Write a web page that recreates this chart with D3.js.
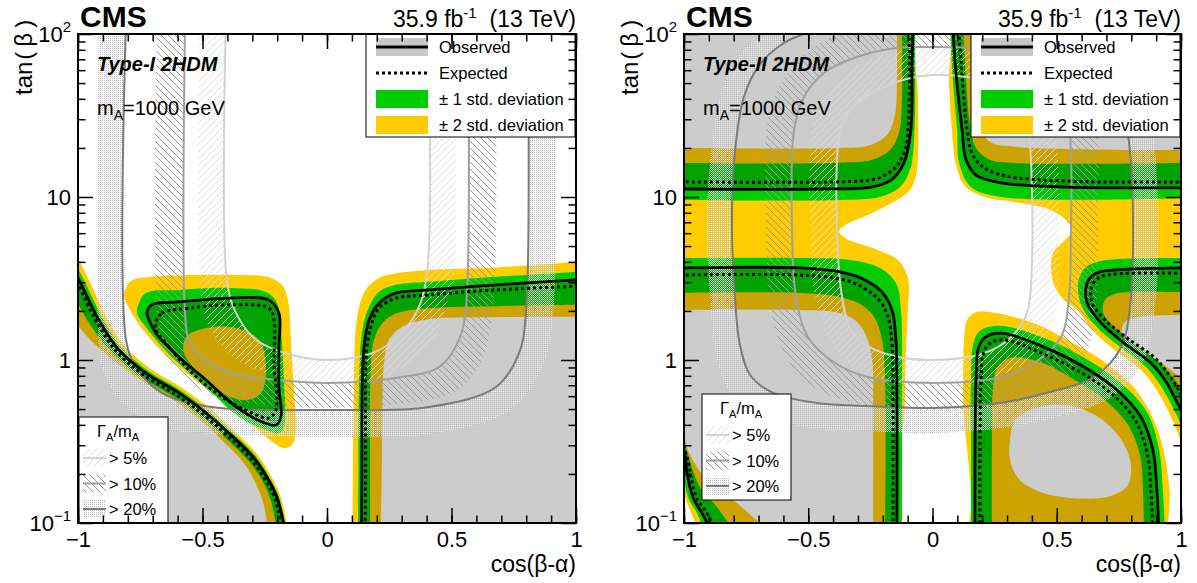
<!DOCTYPE html>
<html><head><meta charset="utf-8">
<script src="https://cdn.jsdelivr.net/npm/d3@7"></script>
<style>
body{margin:0;background:#fff;}
svg text{font-family:"Liberation Sans",Arial,Helvetica,sans-serif;fill:#000;}
</style></head><body>
<svg id="c" width="1197" height="583"></svg>
<script>
// ---------------- axis tick values / labels ----------------
const xTicks = [-1, -0.5, 0, 0.5, 1];
const xTickLabels = ["\u22121", "\u22120.5", "0", "0.5", "1"];
const yTicks = [0.1, 1, 10, 100];
const yTickLabels = [["10", "\u22121"], ["1", ""], ["10", ""], ["10", "2"]];

// ---------------- Type-I contours [cos(b-a), tan(b)] ----------------
const I_LL_y2out = [[-1.044,5.77],[-0.964,3.28],[-0.887,1.85],[-0.812,1.215],[-0.711,0.888],[-0.582,0.674],[-0.471,0.506],[-0.380,0.376],[-0.283,0.267],[-0.228,0.198],[-0.188,0.148],[-0.157,0.0915]];
const I_LL_g1out = [[-1.060,5.45],[-0.980,3.18],[-0.901,1.80],[-0.824,1.18],[-0.719,0.860],[-0.588,0.651],[-0.479,0.489],[-0.387,0.366],[-0.290,0.261],[-0.235,0.194],[-0.194,0.146],[-0.163,0.0911]];
const I_LL_obs = [[-1.076,5.15],[-0.996,3.10],[-0.916,1.76],[-0.835,1.15],[-0.727,0.832],[-0.594,0.628],[-0.486,0.473],[-0.394,0.356],[-0.297,0.254],[-0.241,0.191],[-0.201,0.144],[-0.169,0.0906]];
const I_LL_exp = [[-1.088,5.08],[-1.007,3.04],[-0.927,1.73],[-0.845,1.124],[-0.735,0.806],[-0.601,0.605],[-0.493,0.457],[-0.402,0.345],[-0.306,0.247],[-0.251,0.187],[-0.210,0.142],[-0.178,0.0898]];
const I_LL_g1in = [[-1.120,4.73],[-1.039,2.87],[-0.951,1.65],[-0.859,1.09],[-0.743,0.780],[-0.607,0.584],[-0.500,0.442],[-0.410,0.335],[-0.314,0.239],[-0.261,0.183],[-0.226,0.138],[-0.200,0.0882]];
const I_LL_y2in = [[-1.157,4.41],[-1.075,2.70],[-0.988,1.55],[-0.876,1.05],[-0.750,0.756],[-0.613,0.563],[-0.508,0.427],[-0.420,0.321],[-0.329,0.228],[-0.284,0.172],[-0.255,0.131],[-0.235,0.0855]];

const I_TRI_y2out = [[-0.787,3.05],[-0.711,3.23],[-0.550,3.32],[-0.349,3.32],[-0.237,3.23],[-0.181,2.89],[-0.157,2.33],[-0.145,1.33],[-0.133,0.655],[-0.124,0.372],[-0.141,0.301],[-0.173,0.288],[-0.229,0.323],[-0.325,0.428],[-0.462,0.628],[-0.594,0.906],[-0.711,1.36],[-0.791,2.03],[-0.815,2.51]];
const I_TRI_g1out = [[-0.755,2.24],[-0.727,2.58],[-0.594,2.69],[-0.394,2.77],[-0.245,2.61],[-0.201,2.24],[-0.185,1.53],[-0.173,0.754],[-0.173,0.388],[-0.193,0.356],[-0.245,0.372],[-0.353,0.447],[-0.486,0.683],[-0.622,1.04],[-0.727,1.59],[-0.763,1.94]];
const I_TRI_obs = [[-0.723,1.97],[-0.703,2.18],[-0.594,2.27],[-0.394,2.40],[-0.233,2.33],[-0.193,1.94],[-0.193,1.20],[-0.193,0.683],[-0.185,0.447],[-0.205,0.399],[-0.261,0.417],[-0.365,0.515],[-0.486,0.754],[-0.594,1.04],[-0.687,1.46],[-0.715,1.76]];
const I_TRI_exp = [[-0.687,1.69],[-0.663,1.94],[-0.554,2.08],[-0.394,2.18],[-0.233,2.08],[-0.213,1.76],[-0.213,0.958],[-0.205,0.494],[-0.233,0.441],[-0.301,0.473],[-0.422,0.593],[-0.554,0.868],[-0.647,1.27],[-0.683,1.48]];
const I_TRI_g1in = [[-0.566,1.38],[-0.486,1.57],[-0.365,1.57],[-0.273,1.33],[-0.245,0.906],[-0.265,0.628],[-0.325,0.568],[-0.422,0.628],[-0.514,0.832],[-0.574,1.10]];

const I_RL_y2out = [[1.056,4.11],[0.999,4.01],[0.678,3.70],[0.410,3.57],[0.276,3.40],[0.209,3.18],[0.155,2.69],[0.129,2.12],[0.115,1.53],[0.108,0.754],[0.104,0.211],[0.102,0.0787]];
const I_RL_g1out = [[1.056,3.57],[0.999,3.48],[0.678,3.24],[0.410,3.02],[0.276,2.89],[0.209,2.62],[0.169,2.12],[0.142,1.53],[0.129,0.754],[0.126,0.211],[0.124,0.0787]];
const I_RL_obs = [[1.056,3.14],[0.999,3.10],[0.678,2.89],[0.410,2.69],[0.276,2.57],[0.209,2.23],[0.169,1.76],[0.149,1.21],[0.142,0.754],[0.140,0.211],[0.138,0.0787]];
const I_RL_exp = [[1.056,2.89],[0.999,2.84],[0.678,2.69],[0.410,2.51],[0.276,2.39],[0.209,2.08],[0.176,1.60],[0.158,1.10],[0.155,0.754],[0.155,0.211],[0.153,0.0787]];
const I_RL_g1in = [[1.056,2.18],[0.999,2.18],[0.678,2.14],[0.410,2.08],[0.276,1.93],[0.222,1.68],[0.189,1.33],[0.176,0.910],[0.173,0.211],[0.173,0.0787]];
const I_RL_y2in = [[1.056,1.84],[0.999,1.84],[0.678,1.83],[0.410,1.78],[0.302,1.60],[0.249,1.33],[0.229,0.954],[0.222,0.471],[0.220,0.211],[0.215,0.0787]];

// width contours Gamma_A/m_A (line, outer edge of shaded band)
const I_W20 = [[-0.807,122],[-0.807,1.33],[-0.767,0.906],[-0.663,0.628],[-0.462,0.515],[0.008,0.494],[0.410,0.515],[0.679,0.683],[0.771,1.10],[0.799,1.94],[0.807,122]];
const I_W20o = [[-0.916,122],[-0.916,1.33],[-0.892,0.809],[-0.811,0.530],[-0.671,0.388],[-0.462,0.352],[0.008,0.337],[0.410,0.352],[0.735,0.494],[0.867,0.932],[0.908,1.94],[0.916,122]];
const I_W10 = [[-0.570,122],[-0.570,1.94],[-0.554,1.33],[-0.486,1.0],[-0.382,0.832],[-0.193,0.754],[0.008,0.723],[0.277,0.776],[0.450,0.906],[0.530,1.33],[0.558,2.11],[0.566,122]];
const I_W10o = [[-0.683,122],[-0.683,1.94],[-0.659,1.15],[-0.570,0.754],[-0.430,0.585],[-0.193,0.522],[0.008,0.508],[0.293,0.537],[0.514,0.636],[0.622,1.0],[0.667,2.11],[0.675,122]];
const I_W5 = [[-0.406,122],[-0.402,3.10],[-0.365,1.94],[-0.285,1.33],[-0.165,1.10],[0.008,1.0],[0.209,1.15],[0.341,1.76],[0.398,3.10],[0.402,122]];
const I_W5o = [[-0.514,122],[-0.510,3.10],[-0.478,1.64],[-0.369,1.03],[-0.189,0.786],[0.008,0.723],[0.253,0.809],[0.414,1.24],[0.486,2.33],[0.510,3.10],[0.510,122]];

// ---------------- Type-II contours ----------------
const II_white = [[-0.058,114],[-0.058,39.4],[-0.058,19.4],[-0.066,13.6],[-0.091,11.0],[-0.143,9.59],[-0.252,7.87],[-0.352,6.73],[-0.376,6.19],[-0.352,5.60],[-0.231,4.80],[-0.139,4.11],[-0.099,3.18],[-0.099,2.03],[-0.107,1.15],[-0.111,0.568],[-0.111,0.0844],[0.123,0.0844],[0.123,0.568],[0.127,1.33],[0.139,1.76],[0.175,1.97],[0.231,1.97],[0.404,1.69],[0.565,1.27],[0.698,0.958],[0.809,0.683],[0.877,0.473],[0.925,0.301],[0.954,0.159],[0.962,0.0844],[1.056,0.0844],[1.056,0.280],[1.020,0.288],[0.962,0.441],[0.907,0.636],[0.847,0.844],[0.738,1.135],[0.646,1.51],[0.586,2.0],[0.529,2.33],[0.489,2.89],[0.477,3.67],[0.485,4.53],[0.529,5.37],[0.561,6.19],[0.537,7.22],[0.465,8.44],[0.332,9.32],[0.211,10.0],[0.131,11.7],[0.095,15.7],[0.078,25.8],[0.066,52.2],[0.062,114]];

const II_UL_g1out = [[-1.016,9.59],[-0.372,9.59],[-0.211,10.0],[-0.131,11.5],[-0.091,14.6],[-0.074,22.4],[-0.070,114]];
const II_UL_obs = [[-1.016,11.2],[-0.465,11.2],[-0.247,11.5],[-0.167,12.7],[-0.115,16.2],[-0.087,25.8],[-0.082,66.4],[-0.078,114]];
const II_UL_exp = [[-1.016,12.4],[-0.372,12.4],[-0.231,12.9],[-0.151,15.1],[-0.111,19.4],[-0.095,34.2],[-0.095,114]];
const II_UL_g1in = [[-1.016,16.2],[-0.372,16.2],[-0.243,16.9],[-0.171,19.4],[-0.135,24.7],[-0.123,39.4],[-0.123,114]];
const II_UL_y2in = [[-1.016,20.0],[-0.372,20.0],[-0.252,20.8],[-0.183,24.0],[-0.151,31.8],[-0.143,52.2],[-0.143,114]];

const II_UR_g1out = [[0.070,114],[0.082,52.2],[0.099,25.8],[0.107,16.2],[0.155,11.5],[0.276,10.0],[1.036,9.86]];
const II_UR_obs = [[0.082,114],[0.091,66.4],[0.119,25.8],[0.135,16.9],[0.175,13.6],[0.276,12.2],[0.541,11.5],[1.036,11.4]];
const II_UR_exp = [[0.103,114],[0.115,66.4],[0.139,25.8],[0.159,18.6],[0.203,15.3],[0.292,13.5],[0.541,12.5],[1.036,12.4]];
const II_UR_g1in = [[0.123,114],[0.135,52.2],[0.151,27.7],[0.175,20.0],[0.231,16.9],[0.312,16.2],[1.036,16.2]];
const II_UR_y2in = [[0.159,114],[0.171,52.2],[0.191,27.7],[0.231,21.8],[0.340,20.3],[1.036,19.4]];

const II_ML_g1out = [[-1.016,4.22],[-0.533,4.22],[-0.332,4.11],[-0.211,3.67],[-0.147,2.97],[-0.127,2.03],[-0.123,0.568],[-0.123,0.0906]];
const II_ML_obs = [[-1.016,3.67],[-0.533,3.67],[-0.372,3.47],[-0.272,3.10],[-0.203,2.61],[-0.163,2.03],[-0.147,1.33],[-0.143,0.568],[-0.143,0.0906]];
const II_ML_exp = [[-1.016,3.32],[-0.533,3.32],[-0.372,3.14],[-0.284,2.81],[-0.219,2.37],[-0.179,1.84],[-0.163,1.24],[-0.159,0.568],[-0.159,0.0906]];
const II_ML_g1in = [[-1.016,2.58],[-0.533,2.58],[-0.392,2.47],[-0.292,2.21],[-0.235,1.84],[-0.203,1.33],[-0.191,0.754],[-0.191,0.0906]];
const II_ML_y2in = [[-1.016,2.03],[-0.533,2.03],[-0.392,1.97],[-0.312,1.76],[-0.268,1.42],[-0.243,1.0],[-0.239,0.568],[-0.239,0.0906]];

const II_BL_y2out = [[-1.016,0.211],[-1.004,0.159],[-0.976,0.120],[-0.944,0.0932]];
const II_BL_g1out = [[-1.016,0.261],[-1.004,0.203],[-0.984,0.144],[-0.948,0.115],[-0.924,0.0932]];
const II_BL_obs = [[-1.016,0.323],[-0.996,0.261],[-0.988,0.203],[-0.964,0.144],[-0.928,0.115],[-0.895,0.0932]];
const II_BL_exp = [[-1.012,0.323],[-0.984,0.244],[-0.972,0.191],[-0.948,0.142],[-0.908,0.115],[-0.879,0.0932]];
const II_BL_g1in = [[-1.008,0.372],[-0.984,0.261],[-0.936,0.166],[-0.867,0.125],[-0.807,0.0932]];
const II_BL_y2in = [[-1.008,0.429],[-0.984,0.280],[-0.908,0.184],[-0.803,0.139],[-0.674,0.0932]];

const II_MR_g1out = [[1.056,4.22],[1.0,4.22],[0.678,4.05],[0.618,3.72],[0.590,3.18],[0.586,2.61],[0.602,2.11],[0.662,1.59],[0.755,1.20],[0.863,0.893],[0.924,0.673],[0.980,0.466],[1.036,0.301]];
const II_MR_obs = [[1.056,3.67],[1.0,3.67],[0.678,3.48],[0.638,3.24],[0.618,2.82],[0.622,2.24],[0.678,1.69],[0.771,1.27],[0.879,0.958],[0.943,0.723],[0.99,0.53],[1.06,0.38]];
const II_MR_exp = [[1.056,3.42],[1.0,3.42],[0.686,3.28],[0.654,3.05],[0.638,2.69],[0.642,2.24],[0.694,1.76],[0.787,1.35],[0.895,1.03],[0.960,0.776],[1.036,0.494]];
const II_MR_g1in = [[1.056,2.61],[1.0,2.61],[0.734,2.54],[0.694,2.33],[0.686,1.97],[0.722,1.64],[0.815,1.27],[0.915,0.958],[0.976,0.754],[1.036,0.568]];
const II_MR_y2in = [[1.056,1.89],[1.0,1.89],[0.835,1.84],[0.775,1.71],[0.763,1.46],[0.815,1.24],[0.915,0.972],[1.0,0.776],[1.056,0.655]];

const II_BO_g1out = [[0.155,0.0844],[0.155,0.280],[0.155,0.754],[0.163,1.24],[0.191,1.51],[0.272,1.62],[0.457,1.35],[0.626,1.0],[0.763,0.713],[0.863,0.480],[0.911,0.288],[0.927,0.159],[0.936,0.0844]];
const II_BO_obs = [[0.171,0.0844],[0.171,0.280],[0.175,0.754],[0.183,1.15],[0.207,1.36],[0.276,1.46],[0.449,1.20],[0.610,0.906],[0.742,0.655],[0.839,0.447],[0.887,0.280],[0.903,0.159],[0.911,0.0844]];
const II_BO_exp = [[0.191,0.0844],[0.191,0.280],[0.195,0.754],[0.203,1.07],[0.227,1.25],[0.284,1.33],[0.441,1.10],[0.594,0.844],[0.722,0.619],[0.815,0.429],[0.863,0.272],[0.879,0.159],[0.887,0.0844]];
const II_BO_g1in = [[0.239,0.0844],[0.239,0.280],[0.243,0.655],[0.260,0.893],[0.312,1.03],[0.433,0.972],[0.573,0.754],[0.694,0.568],[0.787,0.399],[0.835,0.261],[0.847,0.159],[0.851,0.0844]];
const II_BO_y2in = [[0.312,0.323],[0.332,0.429],[0.412,0.508],[0.533,0.530],[0.654,0.460],[0.746,0.347],[0.795,0.244],[0.787,0.171],[0.714,0.146],[0.573,0.142],[0.433,0.155],[0.344,0.189],[0.312,0.244]];

const II_W5 = [[0.006,56.0],[0.139,54.5],[0.264,48.0],[0.344,37.7],[0.384,26.9],[0.396,16.9],[0.400,3.94],[0.380,1.94],[0.316,1.38],[0.207,1.10],[0.006,1.0],[-0.131,1.04],[-0.252,1.20],[-0.328,1.53],[-0.368,2.69],[-0.384,6.27],[-0.384,16.9],[-0.368,26.9],[-0.304,37.7],[-0.195,47.3],[-0.091,53.7]];
const II_W5o = [[0.006,82.1],[0.159,79.8],[0.312,69.2],[0.433,48.7],[0.493,29.7],[0.505,16.9],[0.509,3.94],[0.485,1.64],[0.392,1.0],[0.231,0.776],[0.006,0.702],[-0.171,0.733],[-0.312,0.893],[-0.412,1.33],[-0.477,2.69],[-0.493,6.27],[-0.493,16.9],[-0.473,31.8],[-0.392,50.8],[-0.252,69.2],[-0.111,79.8]];
const II_W10 = [[0.006,83.2],[0.171,80.9],[0.332,71.2],[0.453,56.0],[0.525,39.4],[0.553,24.0],[0.557,6.27],[0.549,2.44],[0.517,1.38],[0.408,0.958],[0.276,0.786],[0.006,0.723],[-0.260,0.786],[-0.392,0.958],[-0.501,1.38],[-0.549,2.44],[-0.565,6.27],[-0.557,25.8],[-0.517,41.1],[-0.437,57.7],[-0.304,72.3],[-0.143,82.1]];
const II_W10o = [[0.006,122],[0.211,118],[0.392,103],[0.533,79.8],[0.634,48.7],[0.666,24.0],[0.666,6.27],[0.658,2.18],[0.614,1.07],[0.473,0.655],[0.292,0.530],[0.006,0.494],[-0.292,0.537],[-0.473,0.673],[-0.594,1.07],[-0.654,2.18],[-0.670,6.27],[-0.662,29.7],[-0.602,52.2],[-0.493,79.8],[-0.332,106],[-0.151,120]];
const II_W20 = [[-0.433,131],[-0.489,106],[-0.598,88.1],[-0.690,66.4],[-0.759,41.1],[-0.799,16.2],[-0.807,6.27],[-0.795,2.44],[-0.775,1.24],[-0.734,0.809],[-0.642,0.628],[-0.465,0.545],[-0.268,0.522],[0.002,0.508],[0.272,0.545],[0.473,0.636],[0.650,0.786],[0.759,1.20],[0.799,2.44],[0.807,6.27],[0.799,16.2],[0.759,41.1],[0.690,66.4],[0.598,88.1],[0.489,106],[0.433,131]];
const II_W20o = [[-0.533,140],[-0.573,122],[-0.674,101],[-0.775,74.3],[-0.847,45.3],[-0.895,16.2],[-0.907,6.27],[-0.895,2.44],[-0.871,1.07],[-0.815,0.636],[-0.694,0.460],[-0.485,0.383],[-0.264,0.367],[0.002,0.356],[0.284,0.383],[0.513,0.453],[0.714,0.584],[0.847,0.972],[0.899,2.44],[0.907,6.27],[0.899,16.2],[0.859,48.7],[0.775,79.8],[0.674,109],[0.573,131],[0.533,140]];

// ---------------- drawing ----------------
const COL = {yellow:"#ffcc00", green:"#00cc00", gray:"#cccccc", w5:"#d2d2d2", w10:"#a0a0a0", w20:"#7a7a7a"};
const svg = d3.select("#c");
const defs = svg.append("defs");
function hatch(id, color, dir, sp){
  const p = defs.append("pattern").attr("id", id).attr("patternUnits","userSpaceOnUse").attr("width",sp).attr("height",sp);
  const d = dir > 0 ? `M-1,1L1,-1M0,${sp}L${sp},0M${sp-1},${sp+1}L${sp+1},${sp-1}` : `M-1,${sp-1}L1,${sp+1}M0,0L${sp},${sp}M${sp-1},-1L${sp+1},1`;
  p.append("path").attr("d", d).attr("stroke", color).attr("stroke-width", 1).attr("fill","none");
}
hatch("h5", "#dcdcdc", 1, 7);
hatch("h10", "#9a9a9a", -1, 7);
const st = defs.append("pattern").attr("id","h20").attr("patternUnits","userSpaceOnUse").attr("width",2).attr("height",2);
st.append("rect").attr("width",1).attr("height",1).attr("fill","#bdbdbd");
st.append("rect").attr("x",1).attr("y",1).attr("width",1).attr("height",1).attr("fill","#f2f2f2");

function panel(cfg){
  const {L, R, T, B} = cfg;
  const x = d3.scaleLinear().domain([-1, 1]).range([L, R]);
  const y = d3.scaleLog().domain([0.1, 100]).range([B, T]);
  const lo = d3.line().x(d => x(d[0])).y(d => y(d[1])).curve(d3.curveCatmullRom.alpha(0.5));
  const lc = d3.line().x(d => x(d[0])).y(d => y(d[1])).curve(d3.curveCatmullRomClosed.alpha(0.5));
  const P = pt => `L${x(pt[0])},${y(pt[1])}`;
  const reg = s => {
    if (s.closed) return lc(s.closed);
    if (s.pair) return lo(s.pair[0]) + lo(s.pair[1].slice().reverse()).replace(/^M/, "L") + "Z";
    if (s.ring) return lc(s.ring[0]) + lc(s.ring[1]);
    return lo(s.open) + (s.extra || []).map(P).join("") + "Z";
  };
  const clipId = "clip" + cfg.id;
  defs.append("clipPath").attr("id", clipId).append("rect").attr("x", L).attr("y", T).attr("width", R - L).attr("height", B - T);
  const g = svg.append("g");
  const plot = g.append("g").attr("clip-path", `url(#${clipId})`);
  if (cfg.bg) plot.append("rect").attr("x", L).attr("y", T).attr("width", R - L).attr("height", B - T).attr("fill", cfg.bg);
  cfg.layers.forEach(([color, shapes]) => {
    shapes.forEach(s => plot.append("path").attr("d", reg(s)).attr("fill", color).attr("stroke", "none"));
  });
  cfg.excl.forEach(s => plot.append("path").attr("d", reg(s)).attr("fill", COL.gray).style("mix-blend-mode", "multiply"));
  cfg.widthBands.forEach(([pat, s]) => plot.append("path").attr("d", reg(s)).attr("fill", `url(#${pat})`).attr("fill-rule", "evenodd"));
  cfg.widthLines.forEach(([color, pts, closed]) => plot.append("path").attr("d", closed ? lc(pts) : lo(pts)).attr("fill", "none").attr("stroke", color).attr("stroke-width", 2));
  cfg.obs.forEach(([pts, closed]) => plot.append("path").attr("d", closed ? lc(pts) : lo(pts)).attr("fill", "none").attr("stroke", "#000").attr("stroke-width", 2.8));
  cfg.exp.forEach(([pts, closed]) => plot.append("path").attr("d", closed ? lc(pts) : lo(pts)).attr("fill", "none").attr("stroke", "#000").attr("stroke-width", 3).attr("stroke-dasharray", "3,3"));

  // texts inside
  g.append("text").attr("x", L + 19).attr("y", 71).attr("font-size", 20).attr("font-weight", "bold").attr("font-style", "italic").text(cfg.label);
  const mt = g.append("text").attr("x", L + 19).attr("y", 115).attr("font-size", 20);
  mt.append("tspan").text("m");
  mt.append("tspan").attr("font-size", 14).attr("dy", 5).text("A");
  mt.append("tspan").attr("dy", -5).text("=1000 GeV");

  // legend
  const lx = R - 210, ly = T;
  const lg = g.append("g");
  lg.append("rect").attr("x", lx).attr("y", ly).attr("width", 209).attr("height", 103).attr("fill", "#fff").attr("stroke", "#000").attr("stroke-width", 1);
  const rows = [["obs", "Observed"], ["exp", "Expected"], ["g", "\u00b1 1 std. deviation"], ["yl", "\u00b1 2 std. deviation"]];
  rows.forEach(([k, t], i) => {
    const cy = ly + 13 + i * 26;
    if (k === "obs") {
      lg.append("rect").attr("x", lx + 10).attr("y", cy - 9).attr("width", 52).attr("height", 18).attr("fill", "#c8c8c8");
      lg.append("line").attr("x1", lx + 10).attr("x2", lx + 62).attr("y1", cy).attr("y2", cy).attr("stroke", "#000").attr("stroke-width", 2.8);
    } else if (k === "exp") {
      lg.append("line").attr("x1", lx + 10).attr("x2", lx + 62).attr("y1", cy).attr("y2", cy).attr("stroke", "#000").attr("stroke-width", 3).attr("stroke-dasharray", "3,3");
    } else {
      lg.append("rect").attr("x", lx + 10).attr("y", cy - 9).attr("width", 52).attr("height", 18).attr("fill", k === "g" ? COL.green : COL.yellow);
    }
    lg.append("text").attr("x", lx + 73).attr("y", cy + 6).attr("font-size", 16.5).text(t);
  });

  // width legend
  const wx = cfg.wl[0], wy = cfg.wl[1];
  const wg = g.append("g");
  wg.append("rect").attr("x", wx).attr("y", wy).attr("width", 89).attr("height", 106).attr("fill", "#fff").attr("stroke", "#000").attr("stroke-width", 1);
  const tt = wg.append("text").attr("x", wx + 18).attr("y", wy + 20).attr("font-size", 16.5);
  tt.append("tspan").text("\u0393");
  tt.append("tspan").attr("font-size", 11).attr("dy", 4).text("A");
  tt.append("tspan").attr("dy", -4).text("/m");
  tt.append("tspan").attr("font-size", 11).attr("dy", 4).text("A");
  [["h5", COL.w5, "> 5%"], ["h10", COL.w10, "> 10%"], ["h20", COL.w20, "> 20%"]].forEach(([pat, c, t], i) => {
    const cy = wy + 41 + i * 25.5;
    wg.append("rect").attr("x", wx + 4).attr("y", cy - 9).attr("width", 23).attr("height", 18).attr("fill", `url(#${pat})`);
    wg.append("line").attr("x1", wx + 4).attr("x2", wx + 27).attr("y1", cy).attr("y2", cy).attr("stroke", c).attr("stroke-width", 2);
    wg.append("text").attr("x", wx + 30).attr("y", cy + 6).attr("font-size", 16.5).text(t);
  });

  // frame & ticks
  const ax = g.append("g");
  const styleAxis = s => { s.select(".domain").remove(); s.selectAll("line").attr("stroke", "#000").attr("stroke-width", 1.5); };
  ax.append("g").attr("transform", `translate(0,${B})`).call(d3.axisBottom(x).tickValues(x.ticks(20)).tickSize(-7.5).tickFormat("")).call(styleAxis);
  ax.append("g").attr("transform", `translate(0,${T})`).call(d3.axisTop(x).tickValues(x.ticks(20)).tickSize(-7.5).tickFormat("")).call(styleAxis);
  const xb = ax.append("g").attr("transform", `translate(0,${B})`).call(d3.axisBottom(x).tickValues(xTicks).tickSize(-15).tickPadding(8).tickFormat((d, i) => xTickLabels[i])).call(styleAxis);
  xb.selectAll("text").attr("font-size", 22).attr("font-family", "Liberation Sans, Arial, sans-serif").attr("fill", "#000");
  ax.append("g").attr("transform", `translate(0,${T})`).call(d3.axisTop(x).tickValues(xTicks).tickSize(-15).tickFormat("")).call(styleAxis);
  const yMinor = y.ticks().filter(v => !yTicks.includes(v));
  ax.append("g").attr("transform", `translate(${L},0)`).call(d3.axisLeft(y).tickValues(yMinor).tickSize(-7.5).tickFormat("")).call(styleAxis);
  ax.append("g").attr("transform", `translate(${R},0)`).call(d3.axisRight(y).tickValues(yMinor).tickSize(-7.5).tickFormat("")).call(styleAxis);
  ax.append("g").attr("transform", `translate(${L},0)`).call(d3.axisLeft(y).tickValues(yTicks).tickSize(-15).tickFormat("")).call(styleAxis);
  ax.append("g").attr("transform", `translate(${R},0)`).call(d3.axisRight(y).tickValues(yTicks).tickSize(-15).tickFormat("")).call(styleAxis);
  yTicks.forEach((v, i) => {
    const t = ax.append("text").attr("x", L - 7).attr("y", y(v) + 8).attr("text-anchor", "end").attr("font-size", 22);
    t.append("tspan").text(yTickLabels[i][0]);
    if (yTickLabels[i][1]) t.append("tspan").attr("font-size", 15).attr("dy", -10).text(yTickLabels[i][1]);
  });
  ax.append("rect").attr("x", L).attr("y", T).attr("width", R - L).attr("height", B - T).attr("fill", "none").attr("stroke", "#000").attr("stroke-width", 2);

  // titles
  g.append("text").attr("x", R).attr("y", 572).attr("text-anchor", "end").attr("font-size", 23).text("cos(\u03b2-\u03b1)");
  const yt = g.append("text").attr("transform", `translate(${L - 46},95) rotate(-90)`).attr("font-size", 24);
  yt.append("tspan").text("tan");
  yt.append("tspan").attr("letter-spacing", 5).attr("dx", 2).text("(\u03b2)");
  g.append("text").attr("x", L + 2).attr("y", 27).attr("font-size", 30).attr("font-weight", "bold").text("CMS");
  const lu = g.append("text").attr("x", R).attr("y", 27).attr("text-anchor", "end").attr("font-size", 23);
  lu.append("tspan").text("35.9 fb");
  lu.append("tspan").attr("font-size", 15).attr("dy", -9).text("-1");
  lu.append("tspan").attr("dy", 9).text("\u00a0\u00a0(13 TeV)");
}

panel({
  id: "I", L: 78, R: 576, T: 34, B: 523, label: "Type-I 2HDM", wl: [79, 417],
  layers: [
    [COL.yellow, [{open: I_LL_y2out, extra: [[-1.3, 0.05]]}, {closed: I_TRI_y2out}, {open: I_RL_y2out, extra: [[1.3, 0.05]]}]],
    [COL.green, [{open: I_LL_g1out, extra: [[-1.3, 0.05]]}, {closed: I_TRI_g1out}, {open: I_RL_g1out, extra: [[1.3, 0.05]]}]],
    [COL.yellow, [{open: I_LL_g1in, extra: [[-1.3, 0.05]]}, {closed: I_TRI_g1in}, {open: I_RL_g1in, extra: [[1.3, 0.05]]}]],
    ["#ffffff", [{open: I_LL_y2in, extra: [[-1.3, 0.05]]}, {open: I_RL_y2in, extra: [[1.3, 0.05]]}]]
  ],
  excl: [{open: I_LL_obs, extra: [[-1.3, 0.05]]}, {closed: I_TRI_obs}, {open: I_RL_obs, extra: [[1.3, 0.05]]}],
  widthBands: [["h20", {pair: [I_W20, I_W20o]}], ["h10", {pair: [I_W10, I_W10o]}], ["h5", {pair: [I_W5, I_W5o]}]],
  widthLines: [[COL.w20, I_W20], [COL.w10, I_W10], [COL.w5, I_W5]],
  obs: [[I_LL_obs], [I_TRI_obs, true], [I_RL_obs]],
  exp: [[I_LL_exp], [I_TRI_exp, true], [I_RL_exp]]
});

panel({
  id: "II", L: 684, R: 1181, T: 34, B: 523, label: "Type-II 2HDM", wl: [702, 394], bg: COL.yellow,
  layers: [
    ["#ffffff", [{closed: II_white}, {open: II_BL_y2out, extra: [[-1.2, 0.05]]}]],
    [COL.green, [{open: II_UL_g1out, extra: [[-1.2, 200]]}, {open: II_UR_g1out, extra: [[1.2, 200]]}, {pair: [II_ML_g1out, II_BL_g1out]}, {open: II_MR_g1out}, {open: II_BO_g1out}]],
    [COL.yellow, [{open: II_UL_g1in, extra: [[-1.2, 200]]}, {open: II_UR_g1in, extra: [[1.2, 200]]}, {pair: [II_ML_g1in, II_BL_g1in]}, {open: II_MR_g1in}, {open: II_BO_g1in}]],
    ["#ffffff", [{open: II_UL_y2in, extra: [[-1.2, 200]]}, {open: II_UR_y2in, extra: [[1.2, 200]]}, {pair: [II_ML_y2in, II_BL_y2in]}, {open: II_MR_y2in}, {closed: II_BO_y2in}]]
  ],
  excl: [{open: II_UL_obs, extra: [[-1.2, 200]]}, {open: II_UR_obs, extra: [[1.2, 200]]}, {pair: [II_ML_obs, II_BL_obs]}, {open: II_MR_obs}, {open: II_BO_obs}],
  widthBands: [["h20", {pair: [II_W20, II_W20o]}], ["h10", {ring: [II_W10, II_W10o]}], ["h5", {ring: [II_W5, II_W5o]}]],
  widthLines: [[COL.w20, II_W20], [COL.w10, II_W10, true], [COL.w5, II_W5, true]],
  obs: [[II_UL_obs], [II_UR_obs], [II_ML_obs], [II_BL_obs], [II_MR_obs], [II_BO_obs]],
  exp: [[II_UL_exp], [II_UR_exp], [II_ML_exp], [II_BL_exp], [II_MR_exp], [II_BO_exp]]
});
</script>
</body></html>
